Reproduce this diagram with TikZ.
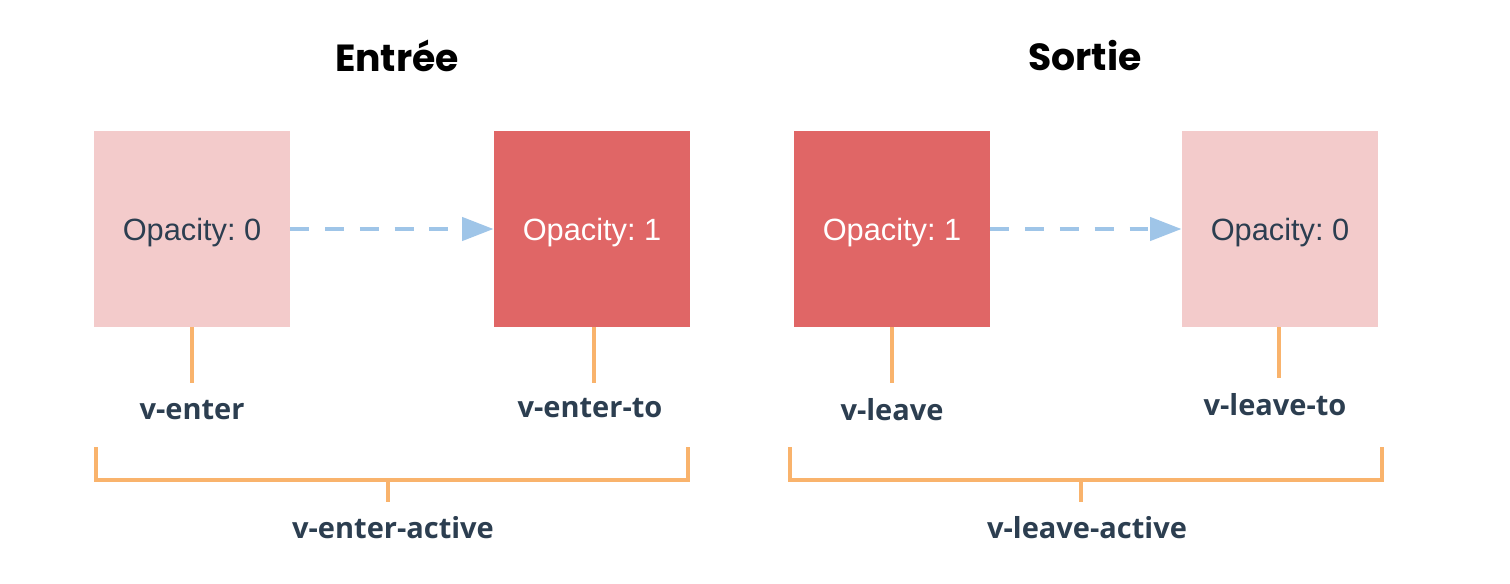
\documentclass[tikz,border=0pt]{standalone}
\usepackage{fontspec}
\setmainfont{Liberation Sans}
\newfontfamily\titlefont{Poppins}
\newfontfamily\labelfont{Open Sans}
\usetikzlibrary{arrows.meta}
\frenchspacing
\definecolor{palered}{HTML}{F3CBCB}
\definecolor{deepred}{HTML}{E06666}
\definecolor{flowblue}{HTML}{9FC5E8}
\definecolor{tickorange}{HTML}{F9B36C}
\definecolor{inkdark}{HTML}{2C3E50}
\tikzset{
  statebox/.style={minimum width=3.92cm, minimum height=3.92cm, inner sep=0pt, draw=none,
    text depth=0pt, font=\fontsize{17.5}{20}\selectfont},
  pale/.style={statebox, fill=palered, text=inkdark},
  strong/.style={statebox, fill=deepred, text=white},
  flow/.style={flowblue, line width=2.8pt, dash pattern=on 10.8pt off 9pt,
    -{Triangle[length=18pt,width=13pt,sep=0pt]}},
  tick/.style={tickorange, line width=2.3pt},
  bracket/.style={tickorange, line width=2.3pt},
  classname/.style={text=inkdark, font=\labelfont\bfseries\fontsize{16.5}{20}\selectfont},
  heading/.style={text=black, font=\titlefont\bfseries\fontsize{21.5}{25}\selectfont}
}
\begin{document}
\begin{tikzpicture}[x=0.02cm,y=-0.02cm]
\useasboundingbox (0,0) rectangle (1510,584);

% titles
\node[heading] (tEnter) at (397,56) {Entrée};
\node[heading] (tLeave) at (1085,56) {Sortie};

% state boxes
\node[pale]   (b1) at (192,229) {Opacity: 0};
\node[strong] (b2) at (592,229) {Opacity: 1};
\node[strong] (b3) at (892,229) {Opacity: 1};
\node[pale]   (b4) at (1280,229) {Opacity: 0};

% transitions
\draw[flow] (b1.east) -- (b2.west);
\draw[flow] (b3.east) -- (b4.west);

% class names under each box
\coordinate (k1) at (192,383);
\coordinate (k2) at (594,383);
\coordinate (k3) at (892,383);
\coordinate (k4) at (1279,378);
\draw[tick] (b1.south -| k1) -- (k1);
\draw[tick] (b2.south -| k2) -- (k2);
\draw[tick] (b3.south -| k3) -- (k3);
\draw[tick] (b4.south -| k4) -- (k4);
\node[classname] (l1) at (192,410) {v-enter};
\node[classname] (l2) at (590,408) {v-enter-to};
\node[classname] (l3) at (892,410) {v-leave};
\node[classname] (l4) at (1275,405) {v-leave-to};

% active brackets
\coordinate (ea) at (96,447);
\coordinate (eb) at (688,447);
\coordinate (em) at (388,480);
\coordinate (en) at (388,502);
\draw[bracket] (ea) |- (em) -| (eb);
\draw[tick] (em) -- (en);
\node[classname] (l5) at (393,528) {v-enter-active};

\coordinate (la) at (790,447);
\coordinate (lb) at (1382,447);
\coordinate (lm) at (1081,480);
\coordinate (ln) at (1081,502);
\draw[bracket] (la) |- (lm) -| (lb);
\draw[tick] (lm) -- (ln);
\node[classname] (l6) at (1087,528) {v-leave-active};
\end{tikzpicture}
\end{document}
